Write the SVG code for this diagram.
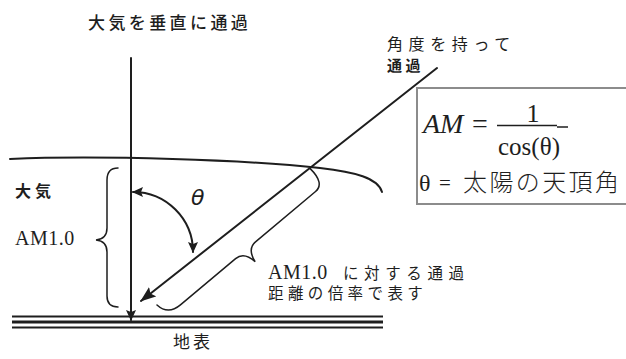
<svg xmlns="http://www.w3.org/2000/svg" width="626" height="359" viewBox="0 0 626 359">
<style>
.ln{fill:none;stroke:#1e1e1e;stroke-width:2;stroke-linecap:round;stroke-linejoin:round}
.thin{fill:none;stroke:#1e1e1e;stroke-width:1.5;stroke-linecap:round}
.jp{font-family:"Noto Sans CJK JP","Noto Sans",sans-serif;fill:#1e1e1e}
.sf{font-family:"Liberation Serif","Noto Sans CJK JP",serif;fill:#1e1e1e}
</style>
<defs>
<marker id="ah" markerUnits="userSpaceOnUse" markerWidth="17" markerHeight="12" refX="15" refY="6" orient="auto-start-reverse" viewBox="0 0 17 12">
<path d="M0,0 L16,6 L0,12 L3,6 z" fill="#1e1e1e"/>
</marker>
<marker id="ahs" markerUnits="userSpaceOnUse" markerWidth="12" markerHeight="10" refX="10" refY="5" orient="auto-start-reverse" viewBox="0 0 12 10">
<path d="M0,0 L11,5 L0,10 L2,5 z" fill="#1e1e1e"/>
</marker>
</defs>
<rect width="626" height="359" fill="#fff"/>

<g id="formula-box">
<rect x="417" y="88" width="240" height="116" fill="#fff" stroke="#8c8c8c" stroke-width="2"/>
<text class="sf" x="423" y="133" font-size="28" font-style="italic">AM</text>
<text class="sf" x="472" y="133" font-size="28">=</text>
<text class="sf" x="533" y="122" font-size="26" text-anchor="middle">1</text>
<line x1="497" y1="125.5" x2="557" y2="125.5" stroke="#1e1e1e" stroke-width="1.5"/>
<line x1="557" y1="127" x2="568" y2="127" stroke="#1e1e1e" stroke-width="1.5"/>
<text class="sf" x="498" y="155" font-size="25">cos(θ)</text>
<text class="sf" x="419" y="191" font-size="24">θ</text>
<text class="sf" x="439" y="190" font-size="21">=</text>
<text class="jp" x="463" y="191" font-size="24" letter-spacing="2.4" font-weight="300">太陽の天頂角</text>
</g>

<g id="connectors">
<path class="ln" d="M10,159 C100,155 250,160 320,168 C355,172 378,178 382,192"/>
<line class="ln" x1="131" y1="58" x2="131" y2="320" marker-end="url(#ahs)"/>
<line class="ln" x1="437" y1="68" x2="141" y2="301" marker-end="url(#ah)"/>
<path class="ln" d="M133,192 A60,60 0 0 1 193,252" marker-start="url(#ahs)" marker-end="url(#ahs)"/>
<path class="thin" d="M118,168 Q107,168 107,180 L107,228 Q107,239 96,240 Q107,241 107,252 L107,296 Q107,307 118,307"/>
<path class="thin" transform="translate(157,305) rotate(-40)" d="M0,0 Q2,15 18,15 L90,15 Q101,15 103,30 Q105,15 116,15 L194,15 Q207,15 205,-6"/>
</g>

<g id="ground">
<line x1="12" y1="316.5" x2="383" y2="316.5" stroke="#1e1e1e" stroke-width="2"/>
<line x1="12" y1="322" x2="383" y2="322" stroke="#1e1e1e" stroke-width="3"/>
<line x1="12" y1="327.5" x2="383" y2="327.5" stroke="#1e1e1e" stroke-width="2"/>
</g>

<g id="label-vertical">
<text class="jp" x="88" y="29" font-size="17" letter-spacing="3.4" font-weight="500">大気を垂直に通過</text>
</g>
<g id="label-diagonal">
<text class="jp" x="387" y="50" font-size="16" letter-spacing="5.6">角度を持って</text>
<text class="jp" x="387" y="71" font-size="15" letter-spacing="3.5" font-weight="bold">通過</text>
</g>
<g id="label-atmosphere">
<text class="jp" x="15" y="197" font-size="16" letter-spacing="4" font-weight="bold">大気</text>
</g>
<g id="label-am10">
<text class="sf" x="15" y="245" font-size="20" letter-spacing="0.5">AM1.0</text>
</g>
<g id="label-theta">
<text x="191" y="205" font-size="22" font-style="italic" font-family="'DejaVu Sans',sans-serif" fill="#1e1e1e">θ</text>
</g>
<g id="label-ratio">
<text class="sf" x="268" y="279" font-size="20" letter-spacing="0.5">AM1.0</text>
<text class="jp" x="343" y="279" font-size="15.5" letter-spacing="5.6">に対する通過</text>
<text class="jp" x="268" y="299" font-size="15.5" letter-spacing="4.4">距離の倍率で表す</text>
</g>
<g id="label-ground">
<text class="jp" x="173" y="348" font-size="17" letter-spacing="3">地表</text>
</g>
</svg>
